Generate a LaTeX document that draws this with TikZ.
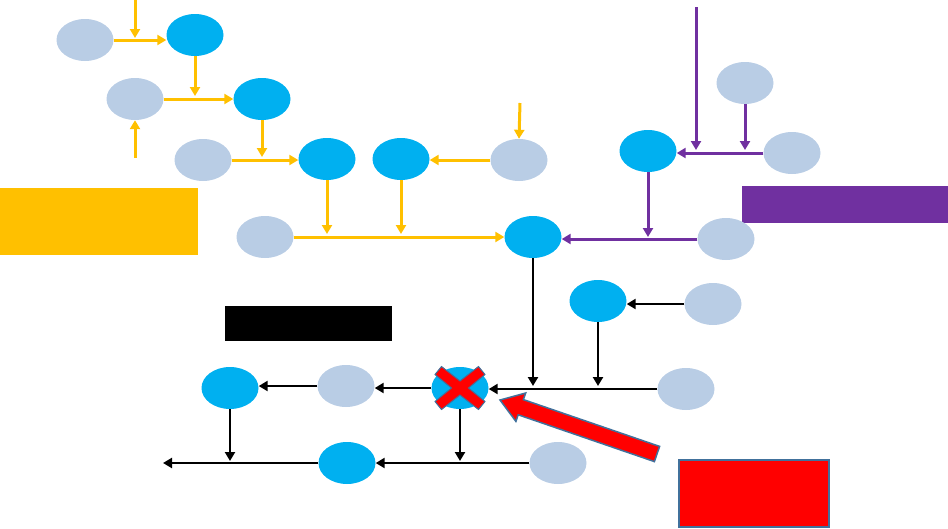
\documentclass[tikz,border=0pt]{standalone}
\usetikzlibrary{shapes.geometric,arrows.meta}
\definecolor{lblue}{HTML}{B9CDE5}
\definecolor{cblue}{HTML}{00B0F0}
\definecolor{cyel}{HTML}{FFC000}
\definecolor{cpur}{HTML}{7030A0}
\definecolor{cred}{HTML}{FF0000}
\definecolor{cedge}{HTML}{41719C}
\tikzset{
  lnode/.style={ellipse,fill=lblue,draw=none,minimum width=57pt,minimum height=42pt,inner sep=0pt},
  bnode/.style={ellipse,fill=cblue,draw=none,minimum width=57pt,minimum height=42pt,inner sep=0pt},
  yar/.style={draw=cyel,line width=3pt,-{Triangle[length=9pt,width=10pt]}},
  par/.style={draw=cpur,line width=3pt,-{Triangle[length=9pt,width=10pt]}},
  kar/.style={draw=black,line width=2.5pt,-{Triangle[length=9pt,width=10pt]}},
}
\begin{document}
\begin{tikzpicture}[x=1pt,y=-1pt]
\useasboundingbox (0,0) rectangle (948,528);
% boxes
\node[fill=cyel,draw=none,minimum width=198pt,minimum height=67pt,inner sep=0pt,anchor=north west] (ybox) at (0,188) {};
\node[fill=cpur,draw=none,minimum width=206pt,minimum height=37pt,inner sep=0pt,anchor=north west] (pbox) at (742,186) {};
\node[fill=black,draw=none,minimum width=167pt,minimum height=35pt,inner sep=0pt,anchor=north west] (kbox) at (225,306) {};
\node[fill=cred,draw=cedge,line width=1.5pt,minimum width=150pt,minimum height=67pt,inner sep=0pt,anchor=north west] (rbox) at (678,459) {};
% yellow cluster
\node[lnode] (A1) at (85,40) {};
\node[lnode] (A2) at (135,99) {};
\node[lnode] (A3) at (203,160) {};
\node[lnode] (A4) at (519,160) {};
\node[lnode] (A5) at (265,237) {};
\node[bnode] (B1) at (195,35) {};
\node[bnode] (B2) at (262,99) {};
\node[bnode] (B3) at (327,159) {};
\node[bnode] (B4) at (401,159) {};
\node[bnode] (B5) at (533,237) {};
% purple cluster
\node[lnode] (P1) at (745,83) {};
\node[lnode] (P2) at (792,153) {};
\node[lnode] (P3) at (726,239) {};
\node[bnode] (Q1) at (648,151) {};
% black cluster
\node[lnode] (K1) at (713,304) {};
\node[lnode] (K2) at (686,389) {};
\node[lnode] (K3) at (346,386) {};
\node[lnode] (K4) at (558,463) {};
\node[bnode] (C1) at (598,301) {};
\node[bnode] (X) at (460,388) {};
\node[bnode] (C2) at (230,388) {};
\node[bnode] (C3) at (347,463) {};
% free ends
\coordinate (ys1) at (135,0);
\coordinate (ye1) at (135,38);
\coordinate (ys2) at (135,158);
\coordinate (ye3) at (195,96);
\coordinate (ye4) at (262,157);
\coordinate (ye5) at (327,234);
\coordinate (ye6) at (401,234);
\coordinate (ys7) at (520,103);
\coordinate (ps1) at (696,7);
\coordinate (pe1) at (696,150);
\coordinate (pe2) at (745,150);
\coordinate (pe3) at (648,237);
\coordinate (ke1) at (533,386);
\coordinate (ke2) at (598,386);
\coordinate (ke3) at (230,461);
\coordinate (ke4) at (460,461);
\coordinate (ke5) at (163,463);
% yellow connectors
\draw[yar] (ys1) -- (ye1);
\draw[yar] (A1.east |- 0,40) -- (B1.west |- 0,40);
\draw[yar] (B1.south) -- (ye3);
\draw[yar] (A2.east) -- (B2.west);
\draw[yar] (ys2) -- (A2.south);
\draw[yar] (B2.south) -- (ye4);
\draw[yar] (A3.east) -- (A3.east -| B3.west);
\draw[yar] (B3.south) -- (ye5);
\draw[yar] (B4.south) -- (ye6);
\draw[yar] (A5.east) -- (B5.west);
\draw[yar] (A4.west) -- (A4.west -| B4.east);
\draw[yar] (ys7) -- (A4.north);
% purple connectors
\draw[par] (ps1) -- (pe1);
\draw[par] (P1.south) -- (pe2);
\draw[par] (P2.west) -- (P2.west -| Q1.east);
\draw[par] (Q1.south) -- (pe3);
\draw[par] (P3.west) -- (P3.west -| B5.east);
% black connectors
\draw[kar] (B5.south) -- (ke1);
\draw[kar] (K1.west) -- (K1.west -| C1.east);
\draw[kar] (C1.south) -- (ke2);
\draw[kar] (K2.west) -- (K2.west -| X.east);
\draw[kar] (X.west) -- (X.west -| K3.east);
\draw[kar] (K3.west) -- (K3.west -| C2.east);
\draw[kar] (C2.south) -- (ke3);
\draw[kar] (X.south) -- (ke4);
\draw[kar] (K4.west) -- (K4.west -| C3.east);
\draw[kar] (C3.west) -- (ke5);
% red X mark
\begin{scope}[shift={(X.center)}]
\filldraw[fill=cred,draw=cedge,line width=1pt] (8.5,0) -- (25,13.5) -- (18.5,21.5) -- (0,7) -- (-18.5,21.5) -- (-25,13.5) -- (-8.5,0) -- (-25,-13.5) -- (-18.5,-21.5) -- (0,-7) -- (18.5,-21.5) -- (25,-13.5) -- cycle;
\end{scope}
% red block arrow
\filldraw[fill=cred,draw=cedge,line width=1.5pt] (500,400) -- (525.7,393.0) -- (523.4,399.6) -- (659.6,446.4) -- (654.4,461.6) -- (518.2,414.8) -- (515.9,421.4) -- cycle;
\end{tikzpicture}
\end{document}
